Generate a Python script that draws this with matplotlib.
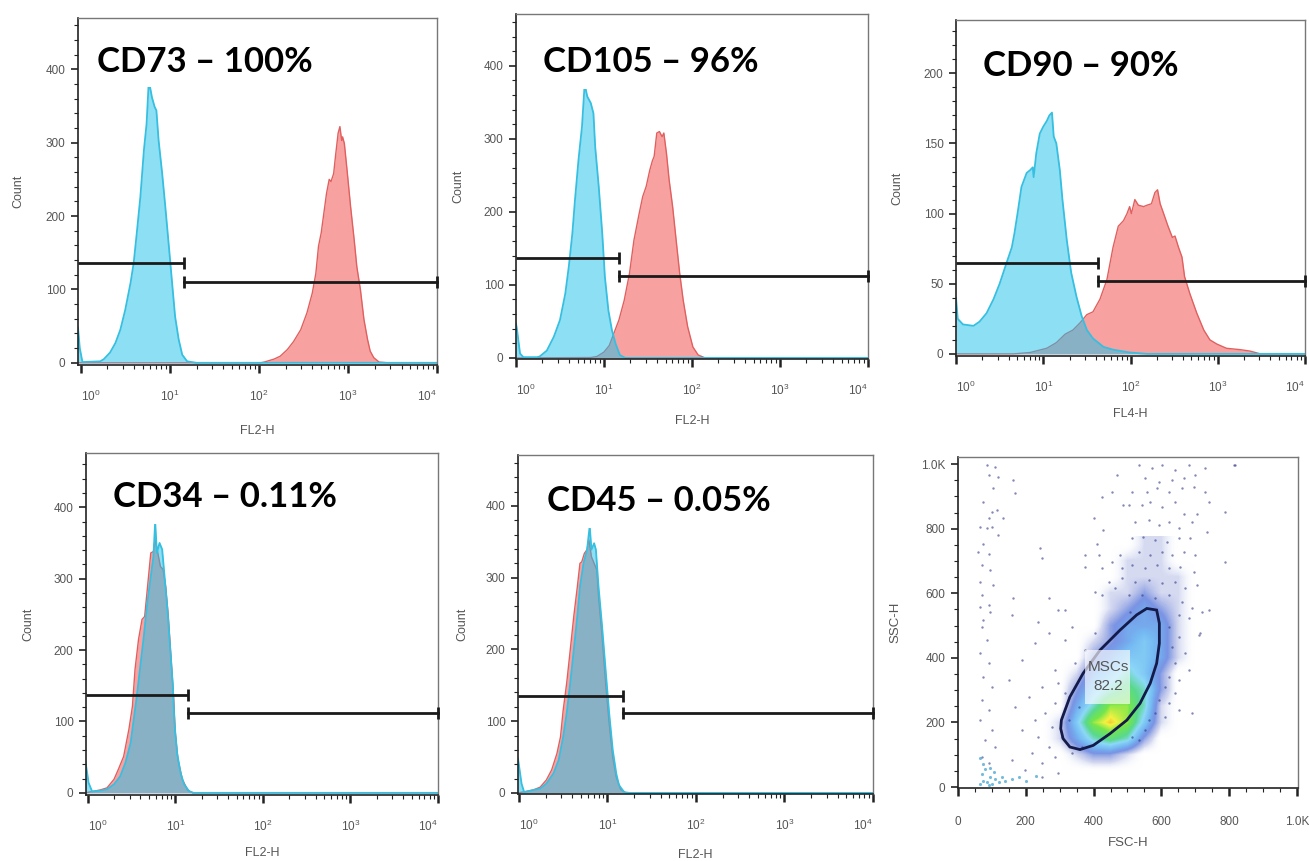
import numpy as np
import matplotlib
matplotlib.use("Agg")
import matplotlib.pyplot as plt
from matplotlib.patches import Rectangle, Polygon
from matplotlib.colors import LinearSegmentedColormap
from matplotlib.ticker import FixedLocator, MultipleLocator, NullFormatter

plt.rcParams["font.family"] = ["Liberation Sans", "DejaVu Sans"]
plt.rcParams["mathtext.fontset"] = "custom"
plt.rcParams["mathtext.rm"] = "Liberation Sans"
plt.rcParams["mathtext.default"] = "regular"

# ------------------------------------------------------------------
# Histogram data (x = log10 fluorescence, y = count)
# ------------------------------------------------------------------
cd73_ctrl_x = [-0.03, -0.01, 0.02, 0.22, 0.26, 0.33, 0.39, 0.445, 0.50, 0.56, 0.595, 0.63, 0.67,
               0.71, 0.74, 0.765, 0.80, 0.83, 0.85, 0.875, 0.915, 0.95, 0.99, 1.03, 1.06, 1.10,
               1.14, 1.195, 1.30, 4.0]
cd73_ctrl_y = [48, 20, 1, 2, 5, 14, 27, 45, 72, 109, 136, 177, 226, 290, 326, 385, 362, 349, 344,
               303, 258, 213, 159, 104, 63, 32, 11, 2, 0, 0]
cd73_x = [-0.03, 2.02, 2.06, 2.17, 2.24, 2.32, 2.39, 2.47, 2.54, 2.60, 2.64, 2.67, 2.70, 2.73,
          2.76, 2.79, 2.81, 2.84, 2.86, 2.89, 2.91, 2.93, 2.94, 2.96, 2.99, 3.03, 3.07, 3.10,
          3.14, 3.18, 3.22, 3.25, 3.29, 3.35, 3.45, 4.0]
cd73_y = [0, 0, 1, 5, 9, 18, 29, 45, 68, 95, 122, 159, 177, 204, 231, 250, 247, 258, 281, 313,
          322, 303, 308, 299, 263, 213, 168, 131, 100, 59, 32, 16, 7, 1, 0, 0]

cd105_ctrl_x = [0.0, 0.01, 0.046, 0.084, 0.24, 0.27, 0.35, 0.43, 0.50, 0.56, 0.60, 0.64, 0.67,
                0.71, 0.75, 0.78, 0.81, 0.85, 0.88, 0.90, 0.94, 0.98, 1.01, 1.05, 1.09, 1.13,
                1.18, 1.24, 4.0]
cd105_ctrl_y = [47, 40, 6, 1, 1, 2, 10, 29, 52, 88, 125, 170, 216, 271, 317, 375, 358, 349, 335,
                289, 235, 171, 111, 65, 38, 20, 4, 0, 0]
cd105_x = [0.0, 0.85, 0.92, 1.00, 1.06, 1.11, 1.17, 1.23, 1.29, 1.34, 1.40, 1.44, 1.48, 1.52,
           1.55, 1.57, 1.60, 1.63, 1.66, 1.68, 1.71, 1.74, 1.78, 1.82, 1.86, 1.90, 1.95, 2.01,
           2.07, 2.15, 4.0]
cd105_y = [0, 0.5, 2, 8, 17, 33, 52, 79, 116, 161, 198, 221, 235, 257, 270, 276, 308, 310, 303,
           308, 280, 244, 207, 161, 116, 79, 43, 15, 4, 0, 0]

cd90_ctrl_x = [0.0, 0.02, 0.08, 0.20, 0.27, 0.35, 0.43, 0.50, 0.58, 0.64, 0.67, 0.71, 0.75, 0.81,
               0.85, 0.88, 0.89, 0.92, 0.96, 1.00, 1.04, 1.07, 1.10, 1.12, 1.15, 1.19, 1.22,
               1.27, 1.32, 1.38, 1.44, 1.50, 1.57, 1.69, 1.80, 1.99, 2.19, 4.0]
cd90_ctrl_y = [40, 25, 21, 20, 23, 29, 39, 50, 65, 76, 86, 102, 119, 129, 131, 133, 126, 143,
               157, 162, 166, 170, 172, 155, 150, 131, 110, 81, 58, 41, 27, 17, 11, 5, 3, 1, 0, 0]
cd90_x = [0.0, 0.66, 0.85, 1.04, 1.15, 1.25, 1.34, 1.42, 1.50, 1.57, 1.65, 1.73, 1.80, 1.86,
          1.92, 1.96, 1.99, 2.01, 2.05, 2.09, 2.15, 2.19, 2.24, 2.28, 2.31, 2.34, 2.38, 2.43,
          2.48, 2.51, 2.55, 2.59, 2.62, 2.68, 2.76, 2.84, 2.91, 2.99, 3.10, 3.26, 3.37, 3.49, 4.0]
cd90_y = [0, 0, 1, 4, 8, 14, 17, 22, 28, 30, 39, 53, 76, 91, 95, 100, 105, 100, 110, 106, 105,
          106, 107, 115, 117, 107, 100, 91, 83, 84, 76, 69, 55, 43, 29, 17, 10, 7, 4, 3, 2, 0, 0]

cd34_ctrl_x = [-0.03, 0.01, 0.05, 0.14, 0.22, 0.30, 0.37, 0.43, 0.49, 0.52, 0.56, 0.60, 0.64,
               0.68, 0.72, 0.75, 0.77, 0.79, 0.82, 0.85, 0.88, 0.91, 0.94, 0.97, 0.99, 1.02,
               1.06, 1.10, 1.16, 1.21, 4.0]
cd34_ctrl_y = [47, 14, 2, 3, 5, 12, 23, 42, 70, 98, 135, 177, 219, 266, 303, 331, 380, 336, 350,
               341, 299, 257, 205, 154, 98, 56, 28, 12, 2, 0, 0]
cd34_x = [-0.03, 0.14, 0.22, 0.30, 0.35, 0.41, 0.47, 0.51, 0.54, 0.58, 0.62, 0.65, 0.68, 0.72,
          0.75, 0.77, 0.80, 0.83, 0.86, 0.89, 0.92, 0.95, 0.98, 1.00, 1.03, 1.08, 1.14, 1.20, 4.0]
cd34_y = [0, 4, 7, 19, 33, 51, 89, 121, 173, 215, 243, 247, 285, 336, 338, 355, 336, 317, 313,
          289, 247, 191, 135, 84, 47, 19, 4, 0, 0]

cd45_ctrl_x = [-0.01, 0.03, 0.06, 0.16, 0.24, 0.31, 0.39, 0.45, 0.50, 0.54, 0.58, 0.62, 0.66,
               0.69, 0.73, 0.77, 0.80, 0.82, 0.85, 0.87, 0.90, 0.94, 0.98, 1.02, 1.06, 1.10,
               1.13, 1.19, 1.25, 4.0]
cd45_ctrl_y = [48, 13, 1, 4, 6, 13, 27, 46, 78, 111, 153, 199, 246, 287, 320, 339, 372, 339,
               348, 339, 287, 232, 171, 111, 60, 27, 11, 1, 0, 0]
cd45_x = [-0.01, 0.16, 0.24, 0.31, 0.37, 0.43, 0.47, 0.50, 0.54, 0.58, 0.62, 0.66, 0.69, 0.71,
          0.74, 0.77, 0.79, 0.82, 0.85, 0.88, 0.90, 0.94, 0.98, 1.02, 1.06, 1.10, 1.15, 1.21, 4.0]
cd45_y = [0, 4, 8, 18, 32, 55, 78, 115, 153, 199, 246, 287, 320, 322, 334, 339, 353, 329, 320,
          311, 274, 218, 153, 97, 50, 22, 5, 0, 0]

# marker gates: (split position, left bar height, right bar height)
gate_split = [14.4, 14.8, 42.0, 14.0, 14.9]
gate_left_h = [136, 137, 65, 137, 135]
gate_right_h = [110, 112, 52, 112, 111]

panel_titles = ["CD73 \u2013 100%", "CD105 \u2013 96%", "CD90 \u2013 90%",
                "CD34 \u2013 0.11%", "CD45 \u2013 0.05%"]
channel_labels = ["FL2-H", "FL2-H", "FL4-H", "FL2-H", "FL2-H"]

# ------------------------------------------------------------------
# FSC / SSC dot plot
# ------------------------------------------------------------------
# density of the main population (rows: SSC 50..750, cols: FSC 250..700)
dens_fsc = [250, 300, 350, 400, 450, 500, 550, 600, 650, 700]
dens_ssc = [50, 100, 150, 200, 250, 300, 350, 400, 450, 500, 550, 600, 650, 700, 750]
dens = [
    [0, 0, 0, 0, 0, 0, 0, 0, 0, 0],
    [0, 0, 1, 2, 2, 1, 0, 0, 0, 0],
    [0, 1, 3, 5, 6, 5, 2, 0, 0, 0],
    [0, 1, 4, 7, 8, 7, 4, 1, 0, 0],
    [0, 0, 3, 5, 7, 7, 5, 1, 0, 0],
    [0, 0, 2, 4, 5, 6, 5, 2, 0, 0],
    [0, 0, 1, 3, 4, 5, 4, 2, 0, 0],
    [0, 0, 0, 2, 3, 4, 4, 3, 1, 0],
    [0, 0, 0, 1, 2, 3, 4, 3, 1, 0],
    [0, 0, 0, 0, 2, 3, 3, 3, 1, 0],
    [0, 0, 0, 0, 1, 2, 3, 2, 1, 0],
    [0, 0, 0, 0, 1, 1, 2, 1, 1, 0],
    [0, 0, 0, 0, 0, 1, 1, 1, 1, 0],
    [0, 0, 0, 0, 0, 1, 1, 1, 0, 0],
    [0, 0, 0, 0, 0, 0, 1, 1, 0, 0],
]

# scattered single events
fsc_events = [85, 109, 90, 119, 104, 163, 168, 75, 99, 114, 90, 134, 65, 85, 99, 119, 75, 60, 90,
              70, 95, 65, 104, 70, 90, 65, 163, 159, 75, 95, 267, 242, 247, 424, 400, 429, 410,
              375, 415, 375, 424, 469, 454, 488, 479, 454, 484, 405, 424, 444, 464, 484, 296, 316,
              237,
              533, 572, 602, 641, 680, 730, 818, 552, 592, 631, 666, 700, 513, 557, 587, 621, 661,
              695, 730, 503, 543, 567, 602, 641, 666, 705, 740, 789, 523, 562, 592, 621, 651, 690,
              735, 513, 547, 582, 616, 651, 685, 533, 567, 602, 631, 666, 700, 789, 513, 552, 587,
              621, 656, 695, 523, 562, 602, 641, 671, 705, 503, 543, 582, 621, 661, 690, 720, 740,
              508, 651, 680, 714, 813,
              70, 85, 65, 90, 75, 99, 70, 90, 65, 99, 80, 109, 70, 90, 149, 188, 227, 267, 316,
              168, 208, 247, 287, 227, 257, 287, 316, 188, 237, 277, 218, 267, 306, 159, 198, 247,
              287, 336, 365, 326, 356, 296, 346, 375, 336, 405, 247, 296,
              621, 651, 710, 631, 671, 641, 680, 621, 651, 612, 641, 592, 621, 651, 582, 562, 612,
              552, 533, 513, 690]
ssc_events = [997, 992, 966, 961, 925, 950, 909, 883, 852, 858, 832, 832, 806, 801, 806, 780, 754,
              729, 723, 687, 672, 636, 625, 594, 563, 558, 584, 532, 517, 543, 584, 739, 708, 899,
              832, 796, 754, 718, 718, 682, 677, 966, 914, 873, 718, 698, 677, 605, 594, 636, 615,
              646, 548, 548, 512,
              997, 987, 998, 981, 997, 987, 997, 956, 945, 950, 956, 966, 914, 914, 925, 914, 925,
              930, 914, 873, 873, 883, 868, 883, 847, 847, 883, 852, 821, 827, 811, 821, 801, 821,
              790, 770, 775, 765, 760, 770, 770, 729, 718, 729, 718, 729, 718, 698, 687, 677, 687,
              677, 682, 667, 636, 641, 631, 636, 615, 625, 594, 594, 584, 594, 574, 553, 543, 548,
              543, 532, 522, 476, 998,
              496, 455, 414, 383, 342, 311, 269, 238, 207, 176, 146, 125, 94, 73, 331, 393, 445,
              476, 455, 249, 280, 311, 362, 207, 228, 259, 290, 176, 156, 187, 104, 125, 156, 84,
              53, 73, 94, 104, 125, 207, 249, 321, 383, 424, 496, 476, 32, 42,
              496, 465, 471, 434, 414, 383, 362, 342, 331, 311, 290, 269, 259, 238, 228, 207, 218,
              176, 146, 156, 228]

# debris close to the origin
fsc_debris = [65, 75, 85, 95, 70, 80, 100, 110, 120, 130, 90, 140, 160, 180, 75, 95, 65, 105,
              200, 230]
ssc_debris = [10, 20, 15, 30, 40, 55, 10, 25, 15, 30, 5, 20, 25, 30, 70, 60, 90, 45, 20, 35]

# MSC gate outline
gate_fsc = [305, 330, 369, 419, 478, 527, 557, 586, 594, 594, 586, 567, 537, 498, 448, 399, 360,
            330, 310, 303]
gate_ssc = [207, 279, 352, 424, 486, 533, 553, 548, 507, 445, 383, 321, 259, 207, 165, 129, 116,
            124, 150, 181]
gate_name = "MSCs"
gate_pct = "82.2"

# ------------------------------------------------------------------
# layout (pixel boxes: left, top, right, bottom)
# ------------------------------------------------------------------
W, H = 1309, 861
boxes = [(78, 18, 437, 365), (516, 14, 868, 359), (956, 20, 1305, 356),
         (86, 453, 438, 795), (518, 455, 873, 794), (958, 457, 1298, 788)]
ylims = [(-3, 470), (-1.5, 471), (-1.5, 238), (-3, 476), (-1.5, 471)]
xmins = [-0.03, 0.0, 0.0, -0.02, -0.01]
title_pos = [(97, 62), (543, 62), (983, 66), (113, 497), (547, 501)]
mask_boxes = [(79, 28, 335, 87), (517, 30, 775, 89), None, (87, 478, 350, 524),
              (519, 472, 785, 528)]
ylab_off = [60, 58, 59, 58, 56]
xlab_off = [66, 62, 58, 58, 61]

RED_FILL, RED_EDGE = "#f7a1a1", "#e0605f"
CYAN_FILL, CYAN_EDGE = "#1dc1eb", "#36bfe0"
GRAY_TXT = "#555555"

fig = plt.figure(figsize=(W / 100, H / 100), dpi=100)


def add_ax(box):
    l, t, r, b = box
    return fig.add_axes([l / W, 1 - b / H, (r - l) / W, (b - t) / H])


def px_to_axes(box, x, y):
    l, t, r, b = box
    return (x - l) / (r - l), (b - y) / (b - t)


def style_frame(ax):
    for s in ax.spines.values():
        s.set_color("#777777")
        s.set_linewidth(1.0)
    ax.spines["left"].set_color("#222222")
    ax.spines["bottom"].set_color("#222222")
    ax.spines["left"].set_linewidth(1.2)
    ax.spines["bottom"].set_linewidth(1.2)
    ax.tick_params(which="both", direction="out", colors="#222222", labelcolor=GRAY_TXT,
                   labelsize=8.5, top=False, right=False)
    ax.tick_params(which="major", length=5, width=1.2, pad=4)
    ax.tick_params(which="minor", length=3, width=0.8)


hist_sets = [(cd73_ctrl_x, cd73_ctrl_y, cd73_x, cd73_y),
             (cd105_ctrl_x, cd105_ctrl_y, cd105_x, cd105_y),
             (cd90_ctrl_x, cd90_ctrl_y, cd90_x, cd90_y),
             (cd34_ctrl_x, cd34_ctrl_y, cd34_x, cd34_y),
             (cd45_ctrl_x, cd45_ctrl_y, cd45_x, cd45_y)]

for i, (cx, cy, sx, sy) in enumerate(hist_sets):
    box = boxes[i]
    ax = add_ax(box)
    style_frame(ax)
    ax.set_xscale("log")
    x0 = 10 ** xmins[i]
    ax.set_xlim(x0, 1e4)
    ax.set_ylim(*ylims[i])

    sx_lin = 10 ** np.array(sx)
    cx_lin = 10 ** np.array(cx)
    ax.fill_between(sx_lin, sy, 0, color=RED_FILL, lw=0, zorder=1)
    ax.plot(sx_lin, sy, color=RED_EDGE, lw=1.0, zorder=1.5)
    ax.fill_between(cx_lin, cy, 0, color=CYAN_FILL, alpha=0.5, lw=0, zorder=2)
    ax.plot(cx_lin, cy, color=CYAN_EDGE, lw=1.3, zorder=2.5)

    # marker gates
    g = gate_split[i]
    ax.plot([x0, g], [gate_left_h[i]] * 2, color="#1a1a1a", lw=2, zorder=3,
            solid_capstyle="butt")
    ax.plot([g], [gate_left_h[i]], marker="|", ms=9, mew=2, color="#1a1a1a", zorder=3)
    ax.plot([g, 1e4], [gate_right_h[i]] * 2, color="#1a1a1a", lw=2, zorder=3,
            marker="|", ms=9, mew=2, clip_on=False)

    # ticks
    ax.xaxis.set_major_locator(FixedLocator([1, 10, 100, 1000, 10000]))
    ax.set_xticklabels([r"$10^{%d}$" % k for k in range(5)])
    labs = ax.get_xticklabels()
    labs[0].set_ha("left")
    labs[-1].set_ha("right")
    minors = [m * 10 ** k for k in range(4) for m in range(2, 10)]
    ax.xaxis.set_minor_locator(FixedLocator(minors))
    ax.xaxis.set_minor_formatter(NullFormatter())
    ax.tick_params(axis="x", which="major", length=6, width=1.8, pad=11)
    if i == 2:
        ax.yaxis.set_major_locator(FixedLocator([0, 50, 100, 150, 200]))
        ax.yaxis.set_minor_locator(MultipleLocator(10))
    else:
        ax.yaxis.set_major_locator(FixedLocator([0, 100, 200, 300, 400]))
        ax.yaxis.set_minor_locator(MultipleLocator(20))

    ax.set_ylabel("Count", fontsize=9, color=GRAY_TXT)
    ax.yaxis.set_label_coords(-ylab_off[i] / (box[2] - box[0]), 0.5)
    ax.yaxis.label.set_va("center")
    ax.set_xlabel(channel_labels[i], fontsize=9, color=GRAY_TXT)
    ax.xaxis.set_label_coords(0.5, -xlab_off[i] / (box[3] - box[1]))
    ax.xaxis.label.set_va("center")

    mb = mask_boxes[i]
    if mb is not None:
        ax0, ay1 = px_to_axes(box, mb[0], mb[1])
        ax1, ay0 = px_to_axes(box, mb[2], mb[3])
        ax.add_patch(Rectangle((ax0, ay0), ax1 - ax0, ay1 - ay0, transform=ax.transAxes,
                               fc="white", ec="none", zorder=4, clip_on=False))

    tx, ty = title_pos[i]
    fig.text(tx / W, 1 - ty / H, panel_titles[i], fontsize=25, fontweight="bold",
             family=["Lato", "DejaVu Sans"], color="black", ha="left", va="center", zorder=10)

# ---- dot plot ----
box = boxes[5]
ax = add_ax(box)
style_frame(ax)
ax.set_xlim(0, 1003)
ax.set_ylim(-3, 1022)

cmap = LinearSegmentedColormap.from_list("flowjo", [
    (0.0, (1, 1, 1, 0)),
    (0.11, (0.35, 0.42, 0.78, 0.25)),
    (0.25, (0.25, 0.4, 0.85, 0.7)),
    (0.38, (0.4, 0.7, 0.95, 0.9)),
    (0.5, (0.55, 0.85, 0.97, 1)),
    (0.62, (0.35, 0.85, 0.55, 1)),
    (0.75, (0.45, 0.9, 0.3, 1)),
    (0.85, (0.95, 0.95, 0.25, 1)),
    (1.0, (0.95, 0.35, 0.1, 1)),
])
ax.imshow(np.array(dens), origin="lower", extent=(225, 725, 25, 775), cmap=cmap,
          vmin=0, vmax=9, interpolation="bilinear", aspect="auto", zorder=1)
ax.scatter(fsc_events, ssc_events, s=3, c="#2f3a85", alpha=0.6, lw=0, zorder=2)
ax.scatter(fsc_debris, ssc_debris, s=5, c="#3a9fd0", alpha=0.7, lw=0, zorder=2)
ax.add_patch(Polygon(np.column_stack([gate_fsc, gate_ssc]), closed=True, fill=False,
                     ec="#141a4a", lw=2, zorder=3))
ax.add_patch(Rectangle((374, 258), 133, 166, fc="white", alpha=0.65, ec="none", zorder=4))
ax.text(443, 372, gate_name, ha="center", va="center", fontsize=11, color=GRAY_TXT, zorder=5)
ax.text(443, 312, gate_pct, ha="center", va="center", fontsize=11, color=GRAY_TXT, zorder=5)

ticks = [0, 200, 400, 600, 800, 1000]
tick_txt = ["0", "200", "400", "600", "800", "1.0K"]
ax.set_xticks(ticks)
ax.set_xticklabels(tick_txt)
ax.set_yticks(ticks)
ax.set_yticklabels(tick_txt)
ax.xaxis.set_minor_locator(MultipleLocator(50))
ax.yaxis.set_minor_locator(MultipleLocator(50))
ax.tick_params(axis="x", which="major", length=6, width=1.8, pad=14)
ax.set_xlabel("FSC-H", fontsize=9.5, color=GRAY_TXT)
ax.xaxis.set_label_coords(0.5, -55 / (box[3] - box[1]))
ax.xaxis.label.set_va("center")
ax.set_ylabel("SSC-H", fontsize=9.5, color=GRAY_TXT)
ax.yaxis.set_label_coords(-63 / (box[2] - box[0]), 0.5)
ax.yaxis.label.set_va("center")

fig.savefig("out.png", dpi=100)
